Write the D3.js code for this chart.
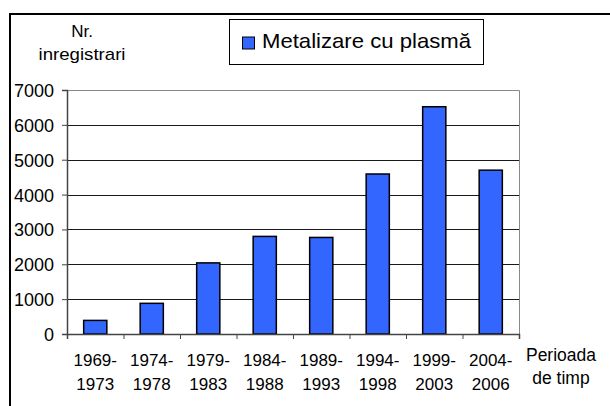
<!DOCTYPE html>
<html>
<head>
<meta charset="utf-8">
<script src="https://cdn.jsdelivr.net/npm/d3@7"></script>
<style>
  body { margin: 0; background: #fff; }
  text { font-family: "Liberation Sans", Arial, sans-serif; fill: #000; }
</style>
</head>
<body>
<div id="chart"></div>
<script>
// data
const periods = ["1969-1973", "1974-1978", "1979-1983", "1984-1988", "1989-1993", "1994-1998", "1999-2003", "2004-2006"];
const counts = [390, 880, 2040, 2800, 2770, 4590, 6520, 4700];
const yTicks = [0, 1000, 2000, 3000, 4000, 5000, 6000, 7000];
const seriesName = "Metalizare cu plasmă";

const size = { width: 610, height: 406 };
const plot = { left: 67, right: 519, top: 90, bottom: 334 };
const barColor = "#3366ff";
const font = "'Liberation Sans', Arial, sans-serif";

const svg = d3.select("#chart")
    .append("svg")
        .attr("width", size.width)
        .attr("height", size.height);

// outer chart frame (right/bottom edges fall outside the picture)
svg.append("rect")
    .attr("x", 10).attr("y", 14)
    .attr("width", size.width + 10).attr("height", size.height + 10)
    .attr("fill", "none").attr("stroke", "#000").attr("stroke-width", 2);

const scaleY = d3.scaleLinear().domain([0, 7000]).range([plot.bottom, plot.top]);
const scaleX = d3.scaleBand().domain(periods).range([plot.left, plot.right])
    .paddingInner(0.59).paddingOuter(0.295);
const scaleTick = d3.scaleLinear().domain([0, periods.length]).range([plot.left, plot.right]);

// plot area border (top + right, grey)
svg.append("path")
    .attr("d", `M${plot.left},${plot.top + 0.5}H${plot.right + 0.5}V${plot.bottom}`)
    .attr("fill", "none").attr("stroke", "#888").attr("stroke-width", 1);

// gridlines
svg.append("g")
    .selectAll("line")
    .data(yTicks.filter((d) => d > 0 && d < 7000))
    .join("line")
        .attr("x1", plot.left).attr("x2", plot.right)
        .attr("y1", (d) => Math.round(scaleY(d)) + 0.5)
        .attr("y2", (d) => Math.round(scaleY(d)) + 0.5)
        .attr("stroke", "#1a1a1a").attr("stroke-width", 1);

// bars
svg.append("g")
    .selectAll(".bar")
    .data(periods.map((p, i) => ({ item: p, count: counts[i] })))
    .join("rect")
        .attr("class", "bar")
        .attr("x", (d) => scaleX(d.item))
        .attr("y", (d) => scaleY(d.count))
        .attr("width", scaleX.bandwidth())
        .attr("height", (d) => plot.bottom - scaleY(d.count))
        .attr("fill", barColor)
        .attr("stroke", "#000").attr("stroke-width", 1.5);

// y axis
const yAxis = svg.append("g")
    .attr("transform", `translate(${plot.left},0)`)
    .attr("font-size", 18).attr("font-family", font)
    .call(d3.axisLeft(scaleY).tickValues(yTicks).tickSize(5).tickPadding(8).tickFormat(d3.format("d")));
yAxis.attr("font-size", 18).attr("font-family", font);
yAxis.select(".domain").attr("stroke", "#444").attr("stroke-width", 1.5);
yAxis.selectAll(".tick line").attr("stroke", "#444");
yAxis.selectAll(".tick text")
    .attr("fill", "#000").attr("dy", "0.36em")
    .style("font-size", "18px").style("font-family", font);

// x axis: ticks at band boundaries, no labels from the axis itself
const xAxis = svg.append("g")
    .attr("transform", `translate(0,${plot.bottom})`)
    .call(d3.axisBottom(scaleTick).tickValues(d3.range(periods.length + 1)).tickSize(5).tickFormat(""));
xAxis.select(".domain").attr("stroke", "#444").attr("stroke-width", 1.5);
xAxis.selectAll(".tick line").attr("stroke", "#444");

// x category labels, two lines each
svg.append("g")
    .selectAll("text")
    .data(periods)
    .join("text")
        .attr("text-anchor", "middle")
        .style("font-size", "17px")
        .each(function (d) {
            const parts = d.split("-");
            const cx = scaleX(d) + scaleX.bandwidth() / 2;
            d3.select(this).append("tspan").attr("x", cx).attr("y", 366).text(parts[0] + "-");
            d3.select(this).append("tspan").attr("x", cx).attr("y", 390).text(parts[1]);
        });

// axis titles
svg.append("text").attr("x", 561).attr("y", 361).attr("text-anchor", "middle")
    .style("font-size", "17.5px").text("Perioada");
svg.append("text").attr("x", 561).attr("y", 384).attr("text-anchor", "middle")
    .style("font-size", "17.5px").text("de timp");
svg.append("text").attr("x", 82).attr("y", 37).attr("text-anchor", "middle")
    .style("font-size", "17px").text("Nr.");
svg.append("text").attr("x", 82).attr("y", 60).attr("text-anchor", "middle")
    .attr("textLength", 87).attr("lengthAdjust", "spacingAndGlyphs")
    .style("font-size", "17px").text("inregistrari");

// legend
const legend = svg.append("g").attr("transform", "translate(229,19)");
legend.append("rect")
    .attr("x", 0.5).attr("y", 0.5).attr("width", 254).attr("height", 45)
    .attr("fill", "#fff").attr("stroke", "#000").attr("stroke-width", 1);
legend.append("rect")
    .attr("x", 13.5).attr("y", 18).attr("width", 12).attr("height", 12)
    .attr("fill", barColor).attr("stroke", "#000").attr("stroke-width", 1);
legend.append("text")
    .attr("x", 33).attr("y", 28.5)
    .attr("textLength", 209).attr("lengthAdjust", "spacingAndGlyphs")
    .style("font-size", "21px").text(seriesName);
</script>
</body>
</html>
